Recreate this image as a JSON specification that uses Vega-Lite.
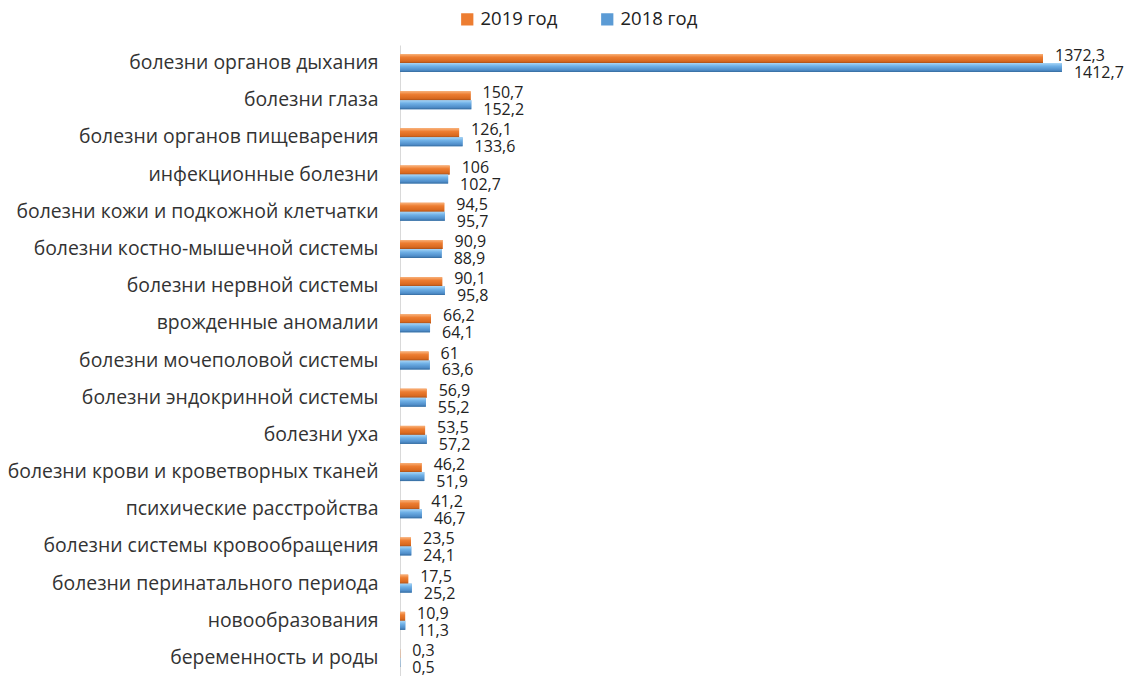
{
  "$schema": "https://vega.github.io/schema/vega-lite/v6.json",
  "autosize": {"type": "none"},
  "padding": {"left": 400, "top": 45, "right": 30, "bottom": 0},
  "width": 700,
  "height": 631,
  "background": "white",
  "config": {
    "locale": {"number": {"decimal": ",", "thousands": " ", "grouping": [3], "currency": ["", ""]}},
    "view": {"stroke": null},
    "font": "Open Sans"
  },
  "data": {
    "values": [
      {"category": "болезни органов дыхания", "year": "2019 год", "value": 1372.3},
      {"category": "болезни органов дыхания", "year": "2018 год", "value": 1412.7},
      {"category": "болезни глаза", "year": "2019 год", "value": 150.7},
      {"category": "болезни глаза", "year": "2018 год", "value": 152.2},
      {"category": "болезни органов пищеварения", "year": "2019 год", "value": 126.1},
      {"category": "болезни органов пищеварения", "year": "2018 год", "value": 133.6},
      {"category": "инфекционные болезни", "year": "2019 год", "value": 106},
      {"category": "инфекционные болезни", "year": "2018 год", "value": 102.7},
      {"category": "болезни кожи и подкожной клетчатки", "year": "2019 год", "value": 94.5},
      {"category": "болезни кожи и подкожной клетчатки", "year": "2018 год", "value": 95.7},
      {"category": "болезни костно-мышечной системы", "year": "2019 год", "value": 90.9},
      {"category": "болезни костно-мышечной системы", "year": "2018 год", "value": 88.9},
      {"category": "болезни нервной системы", "year": "2019 год", "value": 90.1},
      {"category": "болезни нервной системы", "year": "2018 год", "value": 95.8},
      {"category": "врожденные аномалии", "year": "2019 год", "value": 66.2},
      {"category": "врожденные аномалии", "year": "2018 год", "value": 64.1},
      {"category": "болезни мочеполовой системы", "year": "2019 год", "value": 61},
      {"category": "болезни мочеполовой системы", "year": "2018 год", "value": 63.6},
      {"category": "болезни эндокринной системы", "year": "2019 год", "value": 56.9},
      {"category": "болезни эндокринной системы", "year": "2018 год", "value": 55.2},
      {"category": "болезни уха", "year": "2019 год", "value": 53.5},
      {"category": "болезни уха", "year": "2018 год", "value": 57.2},
      {"category": "болезни крови и кроветворных тканей", "year": "2019 год", "value": 46.2},
      {"category": "болезни крови и кроветворных тканей", "year": "2018 год", "value": 51.9},
      {"category": "психические расстройства", "year": "2019 год", "value": 41.2},
      {"category": "психические расстройства", "year": "2018 год", "value": 46.7},
      {"category": "болезни системы кровообращения", "year": "2019 год", "value": 23.5},
      {"category": "болезни системы кровообращения", "year": "2018 год", "value": 24.1},
      {"category": "болезни перинатального периода", "year": "2019 год", "value": 17.5},
      {"category": "болезни перинатального периода", "year": "2018 год", "value": 25.2},
      {"category": "новообразования", "year": "2019 год", "value": 10.9},
      {"category": "новообразования", "year": "2018 год", "value": 11.3},
      {"category": "беременность и роды", "year": "2019 год", "value": 0.3},
      {"category": "беременность и роды", "year": "2018 год", "value": 0.5}
    ]
  },
  "encoding": {
    "y": {
      "field": "category", "type": "nominal", "sort": null,
      "scale": {"paddingInner": 0.516, "paddingOuter": 0.242},
      "axis": {
        "title": null, "ticks": false, "domainColor": "#d9d9d9", "domainWidth": 1,
        "labelFontSize": 19.4, "labelColor": "#333333", "labelPadding": 22, "labelLimit": 400
      }
    },
    "x": {
      "field": "value", "type": "quantitative",
      "scale": {"domain": [0, 1494], "nice": false},
      "axis": null
    },
    "yOffset": {"field": "year", "type": "nominal", "sort": ["2019 год", "2018 год"]}
  },
  "layer": [
    {
      "mark": {"type": "bar"},
      "encoding": {
        "color": {
          "field": "year", "type": "nominal",
          "scale": {"domain": ["2019 год", "2018 год"], "range": ["#ED7D31", "#5B9BD5"]},
          "legend": {
            "title": null, "orient": "none", "direction": "horizontal",
            "legendX": 58, "legendY": -35, "symbolType": "square", "symbolSize": 150,
            "labelFontSize": 18.5, "labelColor": "#222222", "columnPadding": 40, "symbolStrokeWidth": 0
          }
        }
      }
    },
    {
      "transform": [{"filter": "datum.year === '2019 год'"}],
      "mark": {"type": "bar", "color": {"gradient": "linear", "x1": 0, "y1": 0, "x2": 0, "y2": 1,
        "stops": [{"offset": 0, "color": "#F9B27A"}, {"offset": 0.35, "color": "#ED7D31"}, {"offset": 0.8, "color": "#D9691F"}, {"offset": 1, "color": "#A8501A"}]}}
    },
    {
      "transform": [{"filter": "datum.year === '2018 год'"}],
      "mark": {"type": "bar", "color": {"gradient": "linear", "x1": 0, "y1": 0, "x2": 0, "y2": 1,
        "stops": [{"offset": 0, "color": "#A8D6F7"}, {"offset": 0.35, "color": "#6FB0E6"}, {"offset": 0.8, "color": "#4E8CC8"}, {"offset": 1, "color": "#356A9C"}]}}
    },
    {
      "transform": [{"filter": "datum.year === '2019 год'"}],
      "mark": {"type": "text", "align": "left", "dx": 12, "dy": -2.5, "fontSize": 16, "color": "#222222"},
      "encoding": {"text": {"field": "value", "type": "quantitative", "format": ".1~f"}}
    },
    {
      "transform": [{"filter": "datum.year === '2018 год'"}],
      "mark": {"type": "text", "align": "left", "dx": 12, "dy": 5.5, "fontSize": 16, "color": "#222222"},
      "encoding": {"text": {"field": "value", "type": "quantitative", "format": ".1~f"}}
    }
  ]
}
